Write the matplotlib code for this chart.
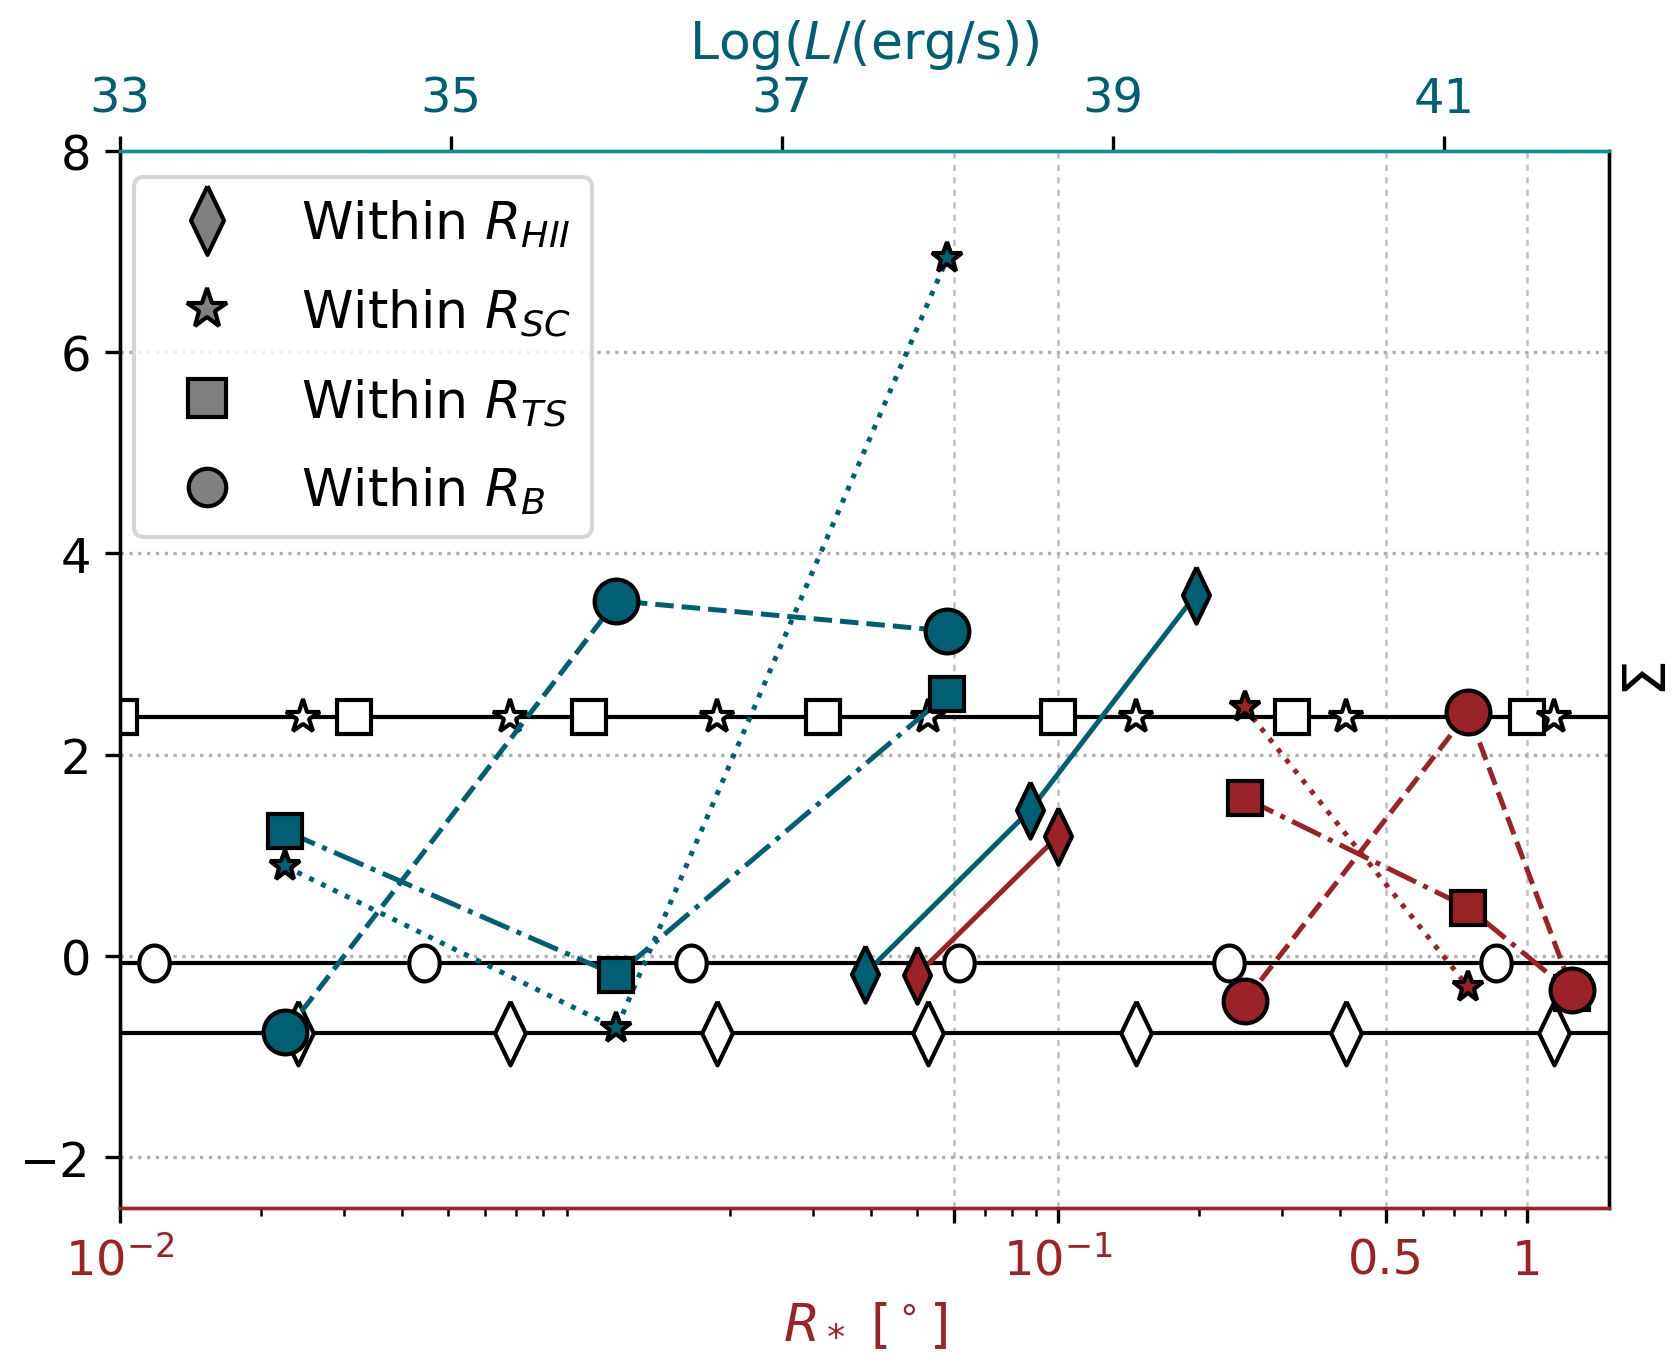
import numpy as np
import matplotlib.pyplot as plt
from matplotlib.lines import Line2D

# colours
teal = '#005f73'
red = '#9b2226'
teal_light = '#0a9396'

# reference levels (black horizontal lines)
y_sq_star = 2.37   # R_SC / R_TS level
y_circ = -0.07     # R_B level
y_diam = -0.77     # R_HII level

# open reference markers along the lines, x in R_* [deg]
ref_sq_x = [0.001, 0.00316, 0.01, 0.0316, 0.1, 0.316, 1.0]
ref_star_x = [0.00246, 0.00679, 0.0188, 0.0528, 0.1466, 0.411, 1.14]
ref_circ_x = [0.00118, 0.00444, 0.0165, 0.0615, 0.232, 0.859]
ref_diam_x = [0.00240, 0.00679, 0.0188, 0.0528, 0.1466, 0.411, 1.14]

# teal series, x in Log(L/(erg/s)) (top axis)
teal_L = [34, 36, 38]
teal_circ = [-0.76, 3.53, 3.23]
teal_star = [0.89, -0.72, 6.94]
teal_sq = [1.24, -0.19, 2.60]
teal_diam_L = [37.5, 38.5, 39.5]
teal_diam = [-0.18, 1.45, 3.59]

# red series, x in R_* [deg] (bottom axis)
red_R = [0.25, 0.75, 1.25]
red_circ = [-0.45, 2.42, -0.34]
red_sq = [1.57, 0.48, -0.37]
red_star_R = [0.25, 0.75]
red_star = [2.47, -0.31]
red_diam_R = [0.05, 0.1]
red_diam = [-0.19, 1.19]

# slim diamond and slightly tall ellipse, like in the original
diam = [(0, 1), (0.48, 0), (0, -1), (-0.48, 0), (0, 1)]
t = np.linspace(0, 2*np.pi, 60)
ellipse = list(zip(0.85*np.cos(t), np.sin(t)))

fig = plt.figure(figsize=(5.6, 4.5633), dpi=300)
ax = fig.add_axes([0.0714, 0.1172, 0.8866, 0.7718])
ax.set_xscale('log')
ax.set_xlim(1e-3, 1.5)
ax.set_ylim(-2.5, 8)

# grid
ax.set_yticks([-2, 0, 2, 4, 6, 8])
ax.grid(axis='y', ls=':', color='#b0b0b0', lw=0.8)
ax.set_xticks([1e-3, 0.06, 0.1, 0.5, 1])
ax.set_xticklabels([r'$10^{-2}$', '', r'$10^{-1}$', '0.5', '1'])
ax.xaxis.set_minor_formatter(plt.NullFormatter())
ax.grid(axis='x', which='major', ls=(0, (2.5, 2.5)), color='#c0c0c0', lw=0.6)

# black reference lines with open markers
for yy in [y_sq_star, y_circ, y_diam]:
    ax.axhline(yy, color='k', lw=1.0, zorder=2)
ax.plot(ref_sq_x, [y_sq_star]*len(ref_sq_x), 's', mfc='white', mec='k', ms=8, zorder=2.1)
ax.plot(ref_star_x, [y_sq_star]*len(ref_star_x), '*', mfc='white', mec='k', ms=8.5, zorder=2.1)
ax.plot(ref_circ_x, [y_circ]*len(ref_circ_x), ls='none', marker=ellipse, mfc='white', mec='k', ms=8.6, zorder=2.1)
ax.plot(ref_diam_x, [y_diam]*len(ref_diam_x), ls='none', marker=diam, mfc='white', mec='k', ms=15.3, zorder=2.1)

# red data on the bottom axis
kw = dict(color=red, mec='k', lw=1.2, zorder=3)
ax.plot(red_diam_R, red_diam, '-', marker=diam, ms=13.5, **kw)
ax.plot(red_star_R, red_star, ':', marker='*', ms=7.5, **kw)
ax.plot(red_R, red_sq, '-.', marker='s', ms=8.2, **kw)
ax.plot(red_R, red_circ, '--', marker='o', ms=10.5, **kw)

ax.tick_params(axis='both', labelsize=11.5)
ax.tick_params(axis='x', colors=red, which='both')
ax.tick_params(axis='x', color='k', which='both')
ax.set_xlabel(r'$R_*\ [^\circ]$', color=red, fontsize=12.5)

# top axis: luminosity
ax_top = ax.twiny()
ax_top.set_xlim(33, 42)
ax_top.set_xticks([33, 35, 37, 39, 41])
ax_top.tick_params(axis='x', labelsize=11.5, labelcolor=teal, color='k')
ax_top.set_xlabel(r'Log($L$/(erg/s))', color=teal, fontsize=12.5)

kw = dict(color=teal, mec='k', lw=1.2, zorder=3)
ax_top.plot(teal_diam_L, teal_diam, '-', marker=diam, ms=13.5, **kw)
ax_top.plot(teal_L, teal_star, ':', marker='*', ms=7.5, **kw)
ax_top.plot(teal_L, teal_sq, '-.', marker='s', ms=8.2, **kw)
ax_top.plot(teal_L, teal_circ, '--', marker='o', ms=10.5, **kw)

for a in (ax, ax_top):
    a.spines['top'].set_color(teal_light)
    a.spines['bottom'].set_color(red)

fig.text(1650/1680, 1 - 679/1369, r'$\Sigma$', rotation=90, ha='center', va='center', fontsize=14)

handles = [
    Line2D([], [], ls='none', marker=diam, mfc='gray', mec='k', ms=16.5),
    Line2D([], [], ls='none', marker='*', mfc='gray', mec='k', ms=10),
    Line2D([], [], ls='none', marker='s', mfc='gray', mec='k', ms=9),
    Line2D([], [], ls='none', marker='o', mfc='gray', mec='k', ms=9),
]
labels = [r'Within $R_{HII}$', r'Within $R_{SC}$', r'Within $R_{TS}$', r'Within $R_{B}$']
ax_top.legend(handles, labels, loc='upper left', bbox_to_anchor=(-0.008, 1.0),
              fontsize=12.5, labelspacing=0.72)

fig.savefig('out.png', dpi=300)
